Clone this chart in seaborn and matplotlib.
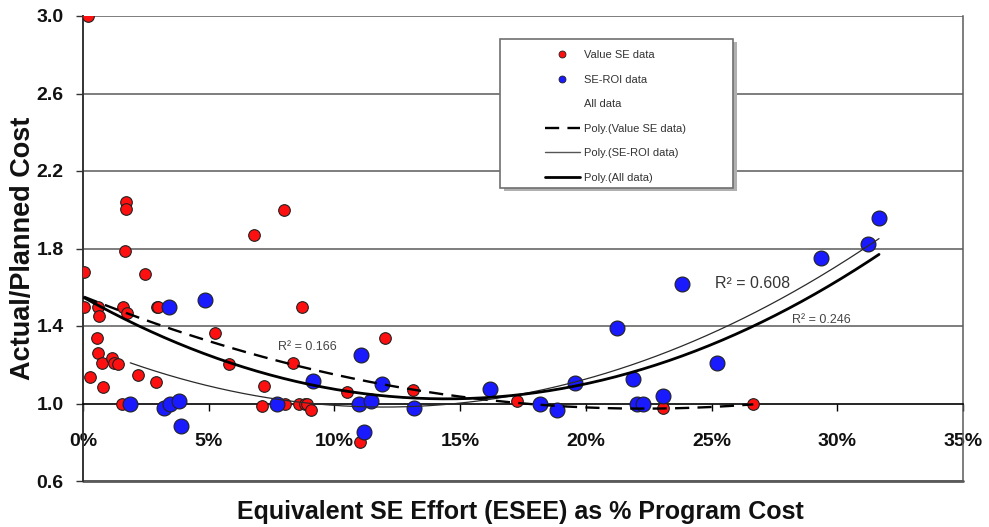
import numpy as np
import pandas as pd
import matplotlib
matplotlib.use("Agg")
import matplotlib.pyplot as plt
import seaborn as sns
from matplotlib.patches import Rectangle
from matplotlib.lines import Line2D

# ---------------- data ----------------
value_se_x = [0.0019, 0.0004, 0.0005, 0.0058, 0.0065, 0.0057, 0.0061, 0.0074, 0.0028, 0.0078,
              0.0117, 0.0125, 0.0140, 0.0155, 0.0160, 0.0176, 0.0167, 0.0171, 0.0171, 0.0219,
              0.0247, 0.0289, 0.0293, 0.0300, 0.0526, 0.0582, 0.0681, 0.0711, 0.0719, 0.0799,
              0.0803, 0.0834, 0.0860, 0.0871, 0.0883, 0.0892, 0.0906, 0.1049, 0.1102, 0.1201,
              0.1311, 0.1725, 0.2308, 0.2666]
value_se_y = [3.00, 1.68, 1.50, 1.50, 1.45, 1.34, 1.26, 1.21, 1.135, 1.087,
              1.233, 1.211, 1.202, 1.00, 1.50, 1.466, 1.789, 2.042, 2.002, 1.147,
              1.668, 1.113, 1.50, 1.50, 1.362, 1.204, 1.868, 0.989, 1.090, 2.00,
              1.00, 1.207, 1.00, 1.50, 1.00, 1.00, 0.967, 1.058, 0.80, 1.336,
              1.071, 1.013, 0.975, 1.00]

se_roi_x = [0.0188, 0.0323, 0.0342, 0.0346, 0.0383, 0.0390, 0.0487, 0.0773, 0.0913, 0.1099,
            0.1104, 0.1118, 0.1144, 0.1189, 0.1318, 0.1619, 0.1818, 0.1886, 0.1957, 0.2125,
            0.2186, 0.2205, 0.2226, 0.2308, 0.2381, 0.2523, 0.2935, 0.3123, 0.3166]
se_roi_y = [1.00, 0.978, 1.50, 1.00, 1.014, 0.884, 1.534, 1.00, 1.116, 1.00,
            1.249, 0.855, 1.013, 1.101, 0.975, 1.075, 1.00, 0.967, 1.104, 1.388,
            1.125, 1.00, 1.00, 1.039, 1.615, 1.207, 1.753, 1.822, 1.959]

r2_labels = ["R\u00b2 = 0.166", "R\u00b2 = 0.608", "R\u00b2 = 0.246"]
x_ticks = [0.00, 0.05, 0.10, 0.15, 0.20, 0.25, 0.30, 0.35]
x_tick_labels = ["0%", "5%", "10%", "15%", "20%", "25%", "30%", "35%"]
y_ticks = [0.6, 1.0, 1.4, 1.8, 2.2, 2.6, 3.0]
y_tick_labels = ["0.6", "1.0", "1.4", "1.8", "2.2", "2.6", "3.0"]
legend_labels = ["Value SE data", "SE-ROI data", "All data",
                 "Poly.(Value SE data)", "Poly.(SE-ROI data)", "Poly.(All data)"]

# ---------------- style ----------------
sns.set_theme(style="white")
plt.rcParams["font.family"] = ["Liberation Sans", "DejaVu Sans"]

fig = plt.figure(figsize=(9.89, 5.27), dpi=100)
ax = fig.add_axes([83 / 989, 46 / 527, 880 / 989, 465 / 527])
ax.set_xlim(0, 0.35)
ax.set_ylim(0.6, 3.0)

# gridlines
for yv in y_ticks:
    if yv == 1.0:
        continue
    ax.axhline(yv, color="#5a5a5a", lw=1.1, zorder=0)

# ---------------- scatter ----------------
df_v = pd.DataFrame({"x": value_se_x, "y": value_se_y})
df_r = pd.DataFrame({"x": se_roi_x, "y": se_roi_y})
sns.scatterplot(data=df_v, x="x", y="y", ax=ax, color="#ff1010", s=70,
                edgecolor="#202020", linewidth=0.8, zorder=3)
sns.scatterplot(data=df_r, x="x", y="y", ax=ax, color="#1a1aff", s=115,
                edgecolor="#202020", linewidth=0.8, zorder=3)

# ---------------- polynomial trend lines ----------------
def fit_line(xs, ys):
    xs = np.asarray(xs); ys = np.asarray(ys)
    c = np.polyfit(xs, ys, 2)
    xx = np.linspace(xs.min(), xs.max(), 300)
    return pd.DataFrame({"x": xx, "y": np.polyval(c, xx)})

all_x = list(value_se_x) + list(se_roi_x)
all_y = list(value_se_y) + list(se_roi_y)
fv = fit_line(value_se_x, value_se_y)
fr = fit_line(se_roi_x, se_roi_y)
fa = fit_line(all_x, all_y)
sns.lineplot(data=fv, x="x", y="y", ax=ax, color="black", lw=1.7,
             linestyle=(0, (6, 3.5)), zorder=4)
sns.lineplot(data=fr, x="x", y="y", ax=ax, color="#2a2a2a", lw=0.9, zorder=4)
sns.lineplot(data=fa, x="x", y="y", ax=ax, color="black", lw=2.0, zorder=4)

# R² labels
ax.text(0.0776, 1.292, r2_labels[0], fontsize=9, color="#454545", va="center", ha="left")
ax.text(0.2514, 1.617, r2_labels[1], fontsize=11.5, color="#353535", va="center", ha="left")
ax.text(0.2820, 1.431, r2_labels[2], fontsize=9, color="#454545", va="center", ha="left")

# ---------------- axes ----------------
ax.spines["top"].set_visible(False)
ax.spines["bottom"].set_position(("data", 1.0))
ax.spines["bottom"].set_color("black")
ax.spines["bottom"].set_linewidth(1.2)
ax.spines["left"].set_color("#333333")
ax.spines["left"].set_linewidth(1.4)
ax.spines["right"].set_color("#5a5a5a")
ax.spines["right"].set_linewidth(1.1)
ax.axhline(0.6, color="#5a5a5a", lw=2.0, zorder=1, clip_on=False)

ax.set_xticks(x_ticks, labels=x_tick_labels, fontweight="bold")
ax.set_yticks(y_ticks, labels=y_tick_labels, fontweight="bold")
ax.tick_params(axis="x", direction="out", length=5, width=1, color="black",
               pad=16, labelsize=14, labelcolor="#111111", bottom=True)
ax.tick_params(axis="y", direction="out", length=5, width=1, color="#333333",
               pad=9, labelsize=14, labelcolor="#111111", left=True)

ax.set_xlabel("Equivalent SE Effort (ESEE) as % Program Cost", fontsize=18,
              fontweight="bold", color="#111111")
ax.set_ylabel("Actual/Planned Cost", fontsize=19.5, fontweight="bold", color="#111111")
ax.xaxis.set_label_coords(0.497, -0.040)
ax.yaxis.set_label_coords(-0.053, 0.5)

# ---------------- legend ----------------
shadow = Rectangle((0.474 + 0.004, 0.630 - 0.007), 0.265, 0.321, transform=ax.transAxes,
                   facecolor="#b0b0b0", edgecolor="none", zorder=5)
frame = Rectangle((0.474, 0.630), 0.265, 0.321, transform=ax.transAxes,
                  facecolor="white", edgecolor="#707070", lw=1.2, zorder=6)
ax.add_patch(shadow)
ax.add_patch(frame)
handles = [
    Line2D([], [], marker="o", ls="none", markerfacecolor="#ff1010",
           markeredgecolor="#202020", markersize=5, markeredgewidth=0.6),
    Line2D([], [], marker="o", ls="none", markerfacecolor="#1a1aff",
           markeredgecolor="#202020", markersize=5, markeredgewidth=0.6),
    Line2D([], [], ls="none"),
    Line2D([], [], color="black", lw=1.7, linestyle=(0, (6, 3.5))),
    Line2D([], [], color="#555555", lw=1.0),
    Line2D([], [], color="black", lw=2.0),
]
leg = ax.legend(handles, legend_labels, loc="upper left", bbox_to_anchor=(0.519, 0.938),
                frameon=False, fontsize=8, handlelength=3.1, handletextpad=0.35,
                labelspacing=1.3, borderpad=0, labelcolor="#333333")
leg.set_zorder(7)

fig.savefig("out.png", dpi=100)
